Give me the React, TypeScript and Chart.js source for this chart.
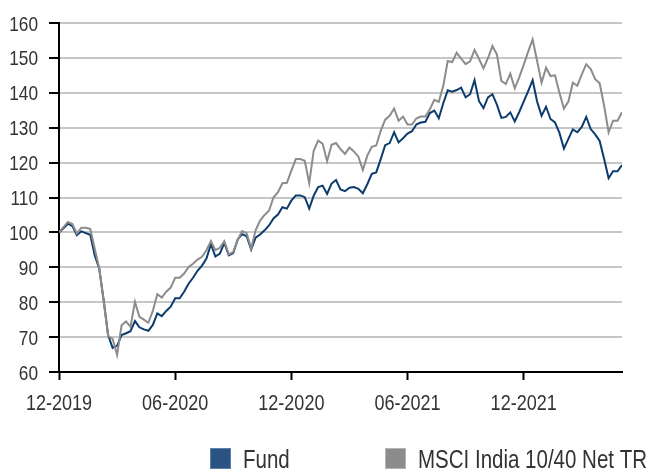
import React, { useEffect, useRef } from "react";
import { Chart, registerables } from "chart.js";

Chart.register(...registerables);

// Weekly index values, rebased to 100 at 12-2019
const fundValues: number[] = [
  100, 101.2, 102.5, 101.8, 99.2, 100.3, 99.8, 99.3, 93.4, 89.7,
  80.5, 70.5, 66.9, 67.5, 70.6, 71.1, 71.7, 74.6, 72.8, 72.2,
  71.8, 73.5, 76.8, 76, 77.5, 78.7, 81.1, 81.1, 83, 85.3,
  87, 89, 90.5, 92.5, 96.6, 93.1, 93.9, 97, 93.4, 94.1,
  98, 99.5, 98.9, 95.1, 98.5, 99.4, 100.6, 102, 104, 105.1,
  107.2, 106.8, 109.1, 110.6, 110.6, 110.1, 106.8, 110.5, 113, 113.4,
  111, 114, 115, 112.3, 111.8, 112.8, 113, 112.5, 111.2, 113.8,
  116.8, 117.2, 121, 125, 125.6, 128.7, 125.8, 127, 128.3, 129,
  131, 131.5, 131.7, 134.2, 134.9, 132.7, 137, 140.7, 140.3, 140.8,
  141.5, 138.7, 139.6, 143.6, 137.6, 135.6, 138.7, 139.6, 136.6, 132.8,
  133.1, 134.4, 131.8, 134.5, 137.5, 140.5, 143.6, 137.5, 133.4, 136,
  132.5, 131.5, 128.5, 124, 126.8, 129.5, 128.7, 130.2, 133.1, 129.6,
  128.1, 126.2, 121, 115.5, 117.5, 117.5, 119.3,
];

const benchmarkValues: number[] = [
  100, 101.5, 103, 102.4, 99.7, 101.3, 101.3, 101, 95.3, 89.7,
  80.3, 70.3, 69.5, 64.9, 73.4, 74.5, 73, 80.1, 75.8, 75,
  74.1, 77.5, 82.3, 81.3, 83, 84.2, 87, 87, 88.2, 90.1,
  91, 92.2, 93, 94.9, 97.5, 94.9, 95.6, 97.5, 93.7, 94.4,
  97.9, 100.4, 99.8, 95.4, 100.6, 103.4, 105, 106.2, 110, 111.5,
  114.1, 114.2, 117.7, 121, 121, 120.5, 114.1, 123.4, 126.3, 125.4,
  120.4, 125.1, 125.6, 123.9, 122.5, 124.3, 123.2, 121.7, 117.9, 122,
  124.5, 124.9, 129.1, 132.3, 133.4, 135.5, 132, 133.2, 130.9, 130.9,
  132.7, 133.2, 133.2, 135.3, 138, 137.4, 142, 149.1, 148.8, 151.5,
  149.8, 148.2, 149, 152.3, 149.7, 147, 149.9, 153.4, 151, 143.4,
  142.5, 145.5, 141.3, 144.4, 148, 151.8, 155.3, 149.1, 142.9, 147.2,
  144.8, 145, 140, 135.5, 137.5, 142.9, 142, 145.3, 148.2, 146.8,
  143.9, 142.7, 136.3, 128.7, 132, 132, 134.4,
];

const xTickWeeks: number[] = [0, 26, 52, 78, 104];
const xTickLabels: string[] = ["12-2019", "06-2020", "12-2020", "06-2021", "12-2021"];

const seriesNames: string[] = ["Fund", "MSCI India 10/40 Net TR"];
const seriesColors: string[] = ["#0c3c6e", "#8c8c8c"];
const legendBoxColors: string[] = ["#2a5283", "#8c8c8c"];
const legendBorderColors: string[] = ["#5f82aa", "#b4b4b4"];

const FONT = "'Liberation Sans', Arial, sans-serif";
const NARROW = 0.82; // horizontal condensing (narrow face is not installed)
const TEXT_COLOR = "#333333";

function narrowText(
  ctx: CanvasRenderingContext2D,
  text: string,
  x: number,
  y: number,
  align: CanvasTextAlign,
  size: number
) {
  ctx.save();
  ctx.translate(x, y);
  ctx.scale(NARROW, 1);
  ctx.font = `${size}px ${FONT}`;
  ctx.textAlign = align;
  ctx.textBaseline = "alphabetic";
  ctx.fillStyle = TEXT_COLOR;
  ctx.fillText(text, 0, 0);
  ctx.restore();
}

export default function App() {
  const canvasRef = useRef<HTMLCanvasElement | null>(null);

  useEffect(() => {
    if (!canvasRef.current) return;
    const textPlugin = {
      id: "narrowText",
      afterDraw(chart: any) {
        const ctx = chart.ctx as CanvasRenderingContext2D;
        const xs = chart.scales.x;
        const ys = chart.scales.y;
        const area = chart.chartArea;
        // y tick labels
        ys.ticks.forEach((t: any) => {
          const py = ys.getPixelForValue(t.value);
          narrowText(ctx, String(t.value), area.left - 21, py + 7.5, "right", 21);
        });
        // x tick labels
        xs.ticks.forEach((t: any) => {
          const idx = xTickWeeks.indexOf(Number(t.value));
          if (idx < 0) return;
          const px = xs.getPixelForValue(t.value);
          narrowText(ctx, xTickLabels[idx], px, area.bottom + 38, "center", 22);
        });
        // legend
        const boxX = [210, 385];
        const boxY = 448;
        const boxS = 21;
        seriesNames.forEach((name, i) => {
          ctx.save();
          ctx.fillStyle = legendBoxColors[i];
          ctx.fillRect(boxX[i], boxY, boxS, boxS);
          ctx.strokeStyle = legendBorderColors[i];
          ctx.lineWidth = 1;
          ctx.strokeRect(boxX[i] + 0.5, boxY + 0.5, boxS - 1, boxS - 1);
          ctx.restore();
          narrowText(ctx, name, boxX[i] + 33, boxY + 20, "left", 25);
        });
      },
    };

    const chart = new Chart(canvasRef.current, {
      type: "line",
      data: {
        datasets: [
          {
            label: seriesNames[0],
            data: fundValues.map((v, i) => ({ x: i, y: v })),
            borderColor: seriesColors[0],
            backgroundColor: seriesColors[0],
            borderWidth: 2,
            pointRadius: 0,
            tension: 0,
            order: 1,
          },
          {
            label: seriesNames[1],
            data: benchmarkValues.map((v, i) => ({ x: i, y: v })),
            borderColor: seriesColors[1],
            backgroundColor: seriesColors[1],
            borderWidth: 2,
            pointRadius: 0,
            tension: 0,
            order: 0,
          },
        ],
      },
      options: {
        responsive: false,
        animation: false,
        layout: { padding: { top: 23, right: 24, bottom: 0, left: 0 } },
        plugins: {
          legend: { display: false },
          tooltip: { enabled: false },
        },
        scales: {
          x: {
            type: "linear",
            min: 0,
            max: fundValues.length - 1,
            afterBuildTicks: (scale: any) => {
              scale.ticks = xTickWeeks.map((v) => ({ value: v }));
            },
            afterFit: (scale: any) => {
              scale.height = 99;
            },
            ticks: { display: false, autoSkip: false },
            grid: {
              drawOnChartArea: false,
              drawTicks: true,
              tickLength: 8,
              tickColor: "#000000",
              tickWidth: 2,
            },
            border: { display: true, color: "#000000", width: 2 },
          },
          y: {
            min: 60,
            max: 160,
            afterFit: (scale: any) => {
              scale.width = 59;
            },
            ticks: { display: false, stepSize: 10 },
            grid: {
              color: "#c6c6c6",
              lineWidth: 2,
              drawTicks: true,
              tickLength: 10,
              tickColor: "#000000",
              tickWidth: 2,
            },
            border: { display: true, color: "#000000", width: 2 },
          },
        },
      },
      plugins: [textPlugin],
    });
    return () => chart.destroy();
  }, []);

  return (
    <div style={{ position: "absolute", left: 0, top: 0, width: 646, height: 471, background: "#ffffff" }}>
      <canvas ref={canvasRef} width={646} height={471} />
    </div>
  );
}
